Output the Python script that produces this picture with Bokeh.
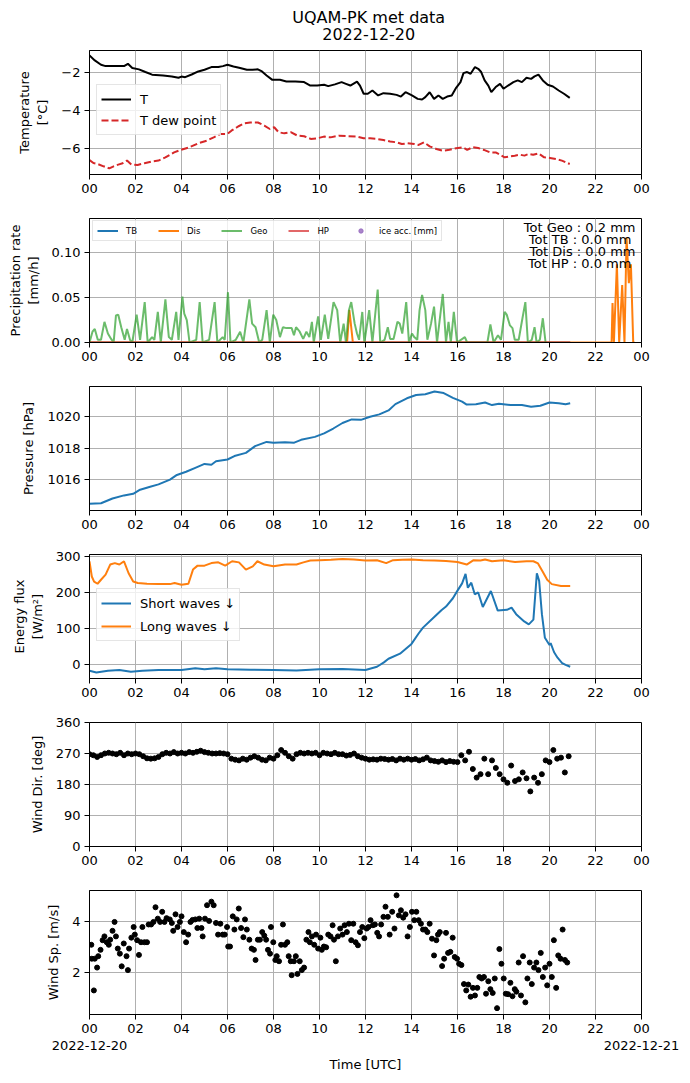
import numpy as np
from bokeh.plotting import figure
from bokeh.models import (Range1d, FixedTicker, LinearAxis, Legend, LegendItem,
                          ColumnDataSource, NumeralTickFormatter)
from bokeh.layouts import column
from bokeh.core.properties import value
from bokeh.embed import file_html
from bokeh.resources import INLINE

FONT = "DejaVu Sans"

# ---------------- data ----------------
title_lines = ["UQAM-PK met data", "2022-12-20"]
hour_ticks = list(range(0, 25, 2))
hour_labels = ["00", "02", "04", "06", "08", "10", "12", "14", "16", "18", "20", "22", "00"]
date_labels = ["2022-12-20", "2022-12-21"]

temp_pts = [(0, -1.09), (0.23, -1.35), (0.5, -1.58), (0.7, -1.65), (1.1, -1.65), (1.5, -1.65),
            (1.67, -1.53), (1.86, -1.75), (2.15, -1.82), (2.43, -1.96), (2.72, -2.1), (3.2, -2.14),
            (3.58, -2.19), (3.87, -2.26), (4.0, -2.2), (4.16, -2.23), (4.44, -2.09), (4.73, -1.93),
            (5.0, -1.84), (5.3, -1.7), (5.6, -1.7), (5.8, -1.65), (6.0, -1.58), (6.26, -1.67),
            (6.55, -1.75), (6.84, -1.84), (7.09, -1.84), (7.32, -1.82), (7.5, -1.93), (7.7, -2.14),
            (7.95, -2.37), (8.28, -2.37), (8.56, -2.46), (8.95, -2.46), (9.33, -2.49), (9.6, -2.67),
            (9.9, -2.67), (10.2, -2.63), (10.38, -2.7), (10.67, -2.61), (10.96, -2.49), (11.15, -2.58),
            (11.34, -2.67), (11.63, -2.46), (11.76, -2.67), (11.92, -3.1), (12.1, -3.1), (12.3, -2.93),
            (12.55, -3.19), (12.78, -3.07), (13.07, -3.1), (13.35, -3.16), (13.54, -3.25), (13.74, -3.02),
            (14.02, -3.19), (14.27, -3.37), (14.46, -3.4), (14.6, -3.28), (14.79, -3.02), (14.98, -3.37),
            (15.17, -3.19), (15.36, -3.37), (15.55, -3.25), (15.75, -3.19), (15.94, -2.79), (16.13, -2.49),
            (16.26, -2.02), (16.42, -1.96), (16.57, -2.05), (16.76, -1.7), (16.9, -1.79), (17.03, -1.96),
            (17.18, -2.4), (17.34, -2.67), (17.47, -3.02), (17.66, -2.75), (17.85, -2.58), (18.0, -2.84),
            (18.2, -2.67), (18.43, -2.49), (18.62, -2.4), (18.8, -2.49), (19.0, -2.26), (19.2, -2.32),
            (19.35, -2.19), (19.52, -2.1), (19.71, -2.4), (19.92, -2.63), (20.15, -2.72), (20.4, -2.93),
            (20.63, -3.1), (20.88, -3.32)]

dew_pts = [(0, -6.58), (0.17, -6.74), (0.36, -6.79), (0.61, -6.91), (0.86, -7.02), (1.05, -6.91),
           (1.25, -6.82), (1.44, -6.75), (1.63, -6.61), (1.82, -6.82), (2.09, -6.84), (2.39, -6.75),
           (2.72, -6.65), (3.0, -6.61), (3.3, -6.44), (3.68, -6.18), (3.97, -6.05), (4.35, -5.91),
           (4.73, -5.7), (5.11, -5.56), (5.4, -5.39), (5.69, -5.21), (6.0, -5.21), (6.17, -5.04),
           (6.46, -4.82), (6.74, -4.65), (6.99, -4.61), (7.32, -4.61), (7.6, -4.77), (7.84, -4.95),
           (8.03, -4.86), (8.22, -5.12), (8.47, -5.18), (8.75, -5.12), (9.04, -5.3), (9.33, -5.33),
           (9.62, -5.47), (9.9, -5.44), (10.19, -5.35), (10.48, -5.39), (10.86, -5.3), (11.25, -5.33),
           (11.63, -5.35), (11.92, -5.44), (12.2, -5.44), (12.49, -5.47), (12.78, -5.53), (13.07, -5.61),
           (13.35, -5.65), (13.58, -5.74), (13.83, -5.7), (14.12, -5.74), (14.31, -5.79), (14.54, -5.65),
           (14.79, -5.86), (15.08, -6.0), (15.36, -6.09), (15.65, -6.04), (15.94, -5.96), (16.23, -5.91),
           (16.42, -6.05), (16.65, -5.91), (16.9, -5.95), (17.15, -6.05), (17.41, -6.18), (17.66, -6.18),
           (17.85, -6.3), (18.05, -6.44), (18.24, -6.4), (18.49, -6.35), (18.72, -6.3), (18.91, -6.35),
           (19.1, -6.26), (19.29, -6.3), (19.52, -6.23), (19.77, -6.44), (20.02, -6.47), (20.29, -6.53),
           (20.54, -6.61), (20.88, -6.79)]

tb_pts = [(0, 0.0), (20.9, 0.0)]
hp_pts = [(0, 0.0), (20.9, 0.0)]
dis_pts = [(0, 0.0), (11.2, 0.0), (11.3, 0.036), (11.45, 0.0), (22.7, 0.0), (22.74, 0.044), (22.8, 0.0),
           (22.93, 0.087), (23.03, 0.0), (23.16, 0.064), (23.26, 0.0), (23.35, 0.117), (23.45, 0.066),
           (23.54, 0.087), (23.64, 0.0), (23.7, 0.0)]
geo_pts = [(0.0, 0), (0.13, 0.012), (0.23, 0.015), (0.36, 0.003), (0.5, 0.003), (0.65, 0.023), (0.8, 0.01),
           (0.94, 0.004), (1.05, 0.0), (1.15, 0.03), (1.25, 0.031), (1.38, 0.017), (1.53, 0.003), (1.63, 0.015),
           (1.76, 0.003), (1.86, 0.0), (2.05, 0.031), (2.2, 0.003), (2.4, 0.045), (2.53, 0.0), (2.72, 0.006),
           (2.82, 0.003), (2.97, 0.034), (3.1, 0.0), (3.3, 0.048), (3.45, 0.006), (3.58, 0.003), (3.77, 0.034),
           (3.87, 0.003), (4.04, 0.051), (4.12, 0.032), (4.23, 0.025), (4.35, 0.0), (4.64, 0.003), (4.79, 0.045),
           (4.92, 0.0), (5.2, 0.003), (5.44, 0.045), (5.56, 0.0), (5.79, 0.006), (5.88, 0.003), (6.02, 0.056),
           (6.13, 0.0), (6.36, 0.003), (6.55, 0.012), (6.69, 0.0), (6.95, 0.048), (7.07, 0.021), (7.22, 0.017),
           (7.38, 0.0), (7.51, 0.003), (7.7, 0.036), (7.84, 0.0), (7.99, 0.031), (8.12, 0.025), (8.28, 0.006),
           (8.41, 0.017), (8.56, 0.016), (8.7, 0.016), (8.79, 0.016), (8.89, 0.008), (8.98, 0.017), (9.14, 0.012),
           (9.29, 0.004), (9.43, 0.012), (9.56, 0.006), (9.67, 0.023), (9.75, 0.0), (9.94, 0.029), (10.06, 0.003),
           (10.23, 0.031), (10.38, 0.004), (10.61, 0.045), (10.77, 0.036), (10.9, 0.0), (11.05, 0.021),
           (11.15, 0.0), (11.28, 0.036), (11.38, 0.045), (11.53, 0.021), (11.63, 0.01), (11.72, 0.003),
           (11.86, 0.034), (11.95, 0.0), (12.16, 0.036), (12.3, 0.0), (12.53, 0.059), (12.64, 0.0), (12.83, 0.003),
           (12.97, 0.017), (13.07, 0.004), (13.22, 0.004), (13.39, 0.023), (13.49, 0.021), (13.6, 0.01),
           (13.77, 0.045), (13.89, 0.0), (14.02, 0.01), (14.12, 0.006), (14.25, 0.003), (14.35, 0.036),
           (14.46, 0.053), (14.6, 0.036), (14.69, 0.003), (14.85, 0.021), (14.98, 0.04), (15.11, 0.0),
           (15.36, 0.054), (15.5, 0.0), (15.61, 0.023), (15.71, 0.0), (15.84, 0.034), (15.98, 0.0), (16.32, 0.006),
           (16.42, 0.0), (17.3, 0.0), (17.43, 0.02), (17.57, 0.0), (17.76, 0.008), (17.89, 0.003), (18.05, 0.034),
           (18.14, 0.031), (18.28, 0.019), (18.39, 0.016), (18.49, 0.003), (18.66, 0.003), (18.81, 0.025),
           (18.95, 0.045), (19.06, 0.0), (19.23, 0.003), (19.35, 0.017), (19.44, 0.0), (19.58, 0.003),
           (19.71, 0.027), (19.83, 0.0)]
ice_pts = [(np.nan, np.nan)]
totals_text = ["Tot Geo : 0.2 mm", "Tot TB  : 0.0 mm", "Tot Dis : 0.0 mm", "Tot HP  : 0.0 mm"]

pres_pts = [(0, 1014.47), (0.5, 1014.5), (1.0, 1014.8), (1.5, 1015.0), (1.9, 1015.1), (2.2, 1015.36),
            (2.6, 1015.53), (3.0, 1015.7), (3.5, 1016.0), (3.8, 1016.3), (4.2, 1016.5), (4.6, 1016.75),
            (5.0, 1017.0), (5.3, 1016.95), (5.5, 1017.17), (6.0, 1017.28), (6.3, 1017.5), (6.8, 1017.7),
            (7.2, 1018.13), (7.7, 1018.4), (8.0, 1018.34), (8.5, 1018.38), (8.9, 1018.35), (9.2, 1018.53),
            (9.8, 1018.72), (10.2, 1018.94), (10.6, 1019.25), (11.0, 1019.6), (11.4, 1019.83), (11.8, 1019.8),
            (12.2, 1020.0), (12.6, 1020.15), (13.0, 1020.4), (13.3, 1020.8), (13.8, 1021.17), (14.2, 1021.38),
            (14.6, 1021.43), (15.0, 1021.6), (15.4, 1021.5), (15.8, 1021.2), (16.2, 1020.96), (16.4, 1020.77),
            (16.8, 1020.79), (17.2, 1020.9), (17.5, 1020.74), (17.8, 1020.83), (18.3, 1020.74), (18.8, 1020.74),
            (19.2, 1020.64), (19.6, 1020.7), (20.0, 1020.9), (20.4, 1020.85), (20.7, 1020.79), (20.9, 1020.85)]

sw_pts = [(0.0, -16), (0.3, -21), (0.8, -16), (1.3, -14), (1.8, -19), (2.3, -16), (3.0, -14), (4.0, -14),
          (4.6, -9), (5.0, -12), (5.5, -9), (6.0, -12), (7.0, -13), (8.0, -14), (9.0, -15), (10.0, -12),
          (11.0, -11), (12.0, -14), (12.5, -5), (12.8, 7), (13.0, 17), (13.5, 31), (14.0, 58), (14.3, 86),
          (14.5, 103), (15.0, 133), (15.3, 151), (15.5, 161), (15.8, 184), (16.0, 205), (16.2, 225),
          (16.35, 251), (16.45, 213), (16.6, 227), (16.75, 195), (16.9, 200), (17.1, 160), (17.45, 204),
          (17.75, 150), (18.15, 152), (18.35, 158), (18.55, 140), (18.9, 120), (19.1, 112), (19.3, 125),
          (19.45, 253), (19.55, 232), (19.67, 140), (19.8, 75), (20.0, 55), (20.05, 60), (20.2, 35),
          (20.35, 20), (20.55, 5), (20.7, 0), (20.9, -5)]
lw_pts = [(0.0, 286), (0.1, 244), (0.2, 230), (0.35, 224), (0.5, 235), (0.7, 249), (0.9, 277), (1.1, 281),
          (1.3, 277), (1.5, 286), (1.7, 253), (1.9, 230), (2.1, 226), (2.5, 224), (3.0, 223), (3.5, 223),
          (3.7, 226), (4.0, 221), (4.3, 224), (4.5, 263), (4.7, 274), (5.0, 274), (5.3, 281), (5.6, 283),
          (5.9, 274), (6.2, 286), (6.5, 283), (6.8, 263), (7.1, 272), (7.3, 286), (7.6, 277), (8.0, 272),
          (8.5, 277), (9.0, 277), (9.3, 283), (9.6, 288), (10.0, 289), (10.5, 290), (11.0, 292), (11.5, 291),
          (12.0, 288), (12.5, 289), (12.9, 281), (13.2, 289), (13.6, 290), (14.0, 291), (14.5, 289),
          (15.0, 288), (15.5, 287), (16.0, 284), (16.4, 277), (16.7, 289), (17.0, 288), (17.2, 291),
          (17.5, 286), (18.0, 289), (18.5, 284), (19.0, 286), (19.3, 286), (19.5, 280), (19.7, 258),
          (19.9, 235), (20.1, 223), (20.5, 218), (20.9, 218)]

# wind direction, 10-minute samples starting 00:00
wdir_vals = [268, 265, 260, 265, 270, 272, 270, 268, 272, 265, 270, 268,
             270, 268, 262, 256, 255, 256, 260, 268, 272, 270, 274, 270,
             272, 270, 274, 272, 275, 278, 274, 272, 270, 270, 271, 270,
             268, 255, 252, 250, 255, 252, 258, 262, 258, 252, 250, 258,
             255, 265, 280, 272, 262, 255, 268, 272, 270, 272, 270, 272,
             265, 272, 270, 268, 272, 268, 268, 264, 266, 270, 262, 258,
             255, 252, 253, 252, 255, 254, 252, 254, 250, 255, 252, 255,
             252, 254, 250, 253, 258, 250, 248, 246, 250, 245, 248, 246,
             245, 265, 250, 275, 225, 200, 210, 255, 210, 250, 228, 210,
             195, 185, 235, 190, 195, 215, 198, 160, 200, 185, 210, 250,
             245, 280, 255, 258, 215, 262]

ws_pts = [(0.08, 3.1), (0.1, 2.55), (0.19, 1.3), (0.23, 2.55), (0.33, 2.2), (0.38, 2.65), (0.48, 2.9),
          (0.57, 3.28), (0.65, 3.43), (0.75, 3.2), (0.84, 3.1), (0.9, 3.3), (1.0, 3.65), (1.09, 4.0),
          (1.15, 3.43), (1.23, 2.95), (1.32, 2.75), (1.4, 2.25), (1.49, 3.15), (1.61, 2.65), (1.67, 2.1),
          (1.72, 2.95), (1.82, 3.38), (1.92, 3.8), (1.97, 3.5), (2.07, 3.28), (2.15, 2.7), (2.24, 3.2),
          (2.3, 3.8), (2.39, 3.2), (2.5, 3.2), (2.57, 3.9), (2.68, 3.9), (2.78, 4.0), (2.87, 4.58),
          (2.97, 4.13), (3.07, 4.0), (3.16, 4.4), (3.26, 4.0), (3.35, 4.15), (3.49, 4.1), (3.58, 3.96),
          (3.64, 3.65), (3.74, 4.3), (3.83, 3.8), (3.93, 4.0), (4.0, 4.22), (4.1, 3.6), (4.2, 3.2),
          (4.29, 3.5), (4.39, 4.0), (4.48, 4.08), (4.6, 4.1), (4.69, 3.76), (4.77, 4.13), (4.87, 3.76),
          (4.92, 3.43), (5.02, 4.13), (5.11, 4.66), (5.2, 4.04), (5.3, 4.8), (5.4, 4.66), (5.5, 3.96),
          (5.59, 3.5), (5.69, 3.93), (5.79, 3.5), (5.88, 3.5), (5.98, 3.8), (6.03, 3.03), (6.11, 3.03),
          (6.23, 4.22), (6.3, 3.7), (6.4, 4.1), (6.49, 4.53), (6.59, 3.76), (6.69, 3.4), (6.76, 4.1),
          (6.84, 3.7), (6.95, 3.3), (7.05, 2.95), (7.15, 2.9), (7.22, 2.5), (7.32, 3.3), (7.41, 3.3),
          (7.51, 3.6), (7.6, 3.46), (7.68, 3.3), (7.76, 2.9), (7.85, 2.75), (7.89, 3.8), (7.99, 3.2),
          (8.08, 2.5), (8.14, 2.65), (8.24, 2.45), (8.33, 3.1), (8.41, 3.9), (8.5, 3.1), (8.6, 3.2),
          (8.66, 2.65), (8.75, 2.45), (8.79, 1.9), (8.89, 2.45), (8.97, 2.65), (9.04, 1.95), (9.14, 2.45),
          (9.23, 2.1), (9.33, 2.2), (9.43, 3.3), (9.52, 3.6), (9.58, 3.2), (9.67, 3.43), (9.77, 3.1),
          (9.85, 3.5), (9.94, 2.95), (10.04, 3.38), (10.1, 2.9), (10.19, 3.03), (10.29, 3.0), (10.38, 3.5),
          (10.48, 3.43), (10.57, 3.87), (10.63, 3.3), (10.71, 2.45), (10.8, 3.43), (10.9, 3.74), (11.0, 3.5),
          (11.09, 3.87), (11.19, 3.6), (11.28, 3.93), (11.38, 3.28), (11.47, 3.93), (11.57, 3.2), (11.67, 3.08),
          (11.76, 3.6), (11.86, 3.8), (11.95, 3.36), (12.05, 3.74), (12.13, 3.8), (12.22, 4.07), (12.32, 3.87),
          (12.41, 3.9), (12.51, 3.57), (12.59, 3.43), (12.68, 3.9), (12.78, 4.2), (12.87, 4.6), (12.97, 4.2),
          (13.05, 3.5), (13.16, 4.4), (13.26, 3.74), (13.35, 5.05), (13.45, 4.26), (13.54, 4.46), (13.64, 4.17),
          (13.74, 4.3), (13.83, 3.43), (13.93, 3.8), (14.02, 4.4), (14.12, 4.07), (14.21, 4.4), (14.31, 4.07),
          (14.41, 3.93), (14.5, 3.7), (14.6, 3.7), (14.69, 3.6), (14.79, 3.93), (14.89, 3.34), (14.98, 2.68),
          (15.08, 3.28), (15.15, 3.5), (15.23, 3.6), (15.33, 2.26), (15.42, 2.55), (15.5, 3.57), (15.59, 2.78),
          (15.69, 2.82), (15.79, 3.38), (15.88, 2.62), (15.98, 2.55), (16.07, 2.35), (16.17, 2.3),
          (16.28, 1.55), (16.38, 1.3), (16.47, 1.53), (16.57, 1.05), (16.67, 1.4), (16.76, 1.1), (16.86, 1.4),
          (16.95, 1.83), (17.05, 1.77), (17.15, 1.83), (17.24, 1.17), (17.34, 1.66), (17.43, 1.35),
          (17.53, 1.2), (17.62, 1.77), (17.72, 0.6), (17.82, 2.93), (17.91, 2.35), (18.01, 1.77), (18.1, 1.17),
          (18.2, 1.15), (18.3, 1.6), (18.39, 1.07), (18.49, 1.35), (18.56, 1.25), (18.66, 2.4), (18.76, 1.1),
          (18.85, 2.65), (18.95, 0.83), (19.04, 1.77), (19.14, 2.4), (19.23, 1.55), (19.33, 2.2), (19.43, 2.4),
          (19.52, 2.1), (19.62, 2.78), (19.71, 1.83), (19.81, 2.2), (19.9, 1.5), (20.0, 2.35), (20.1, 1.83),
          (20.19, 3.28), (20.29, 1.4), (20.38, 2.68), (20.48, 2.55), (20.57, 3.7), (20.67, 2.5), (20.77, 2.4)]


def xy(pts):
    a = np.array(pts, dtype=float)
    return a[:, 0], a[:, 1]


# ---------------- styling helpers ----------------
FIG_W = 682
LEFT = 89
RIGHT = 41


def style_axis(ax):
    ax.major_label_text_font = FONT
    ax.major_label_text_font_size = "13px"
    ax.major_label_text_color = "black"
    ax.axis_label_text_font = FONT
    ax.axis_label_text_font_size = "13px"
    ax.axis_label_text_font_style = "normal"
    ax.axis_label_text_color = "black"
    ax.axis_line_color = "black"
    ax.major_tick_line_color = "black"
    ax.major_tick_in = 0
    ax.major_tick_out = 5
    ax.minor_tick_line_color = None
    ax.major_label_standoff = 4
    ax.axis_label_standoff = 8


def make_fig(height, top, bottom, yr, yticks, ylabel, overrides=None):
    p = figure(width=FIG_W, height=height, x_range=Range1d(0, 24), y_range=Range1d(*yr),
               output_backend="svg", toolbar_location=None, title=None,
               min_border_left=LEFT, min_border_right=RIGHT, min_border_top=top, min_border_bottom=bottom)
    p.background_fill_color = "white"
    p.border_fill_color = "white"
    p.outline_line_color = "black"
    p.outline_line_width = 1
    p.outline_line_alpha = 1
    p.xaxis.ticker = FixedTicker(ticks=hour_ticks)
    p.xaxis.major_label_overrides = dict(zip(hour_ticks, hour_labels))
    p.yaxis.ticker = FixedTicker(ticks=yticks)
    if overrides:
        p.yaxis.major_label_overrides = overrides
    p.yaxis.axis_label = ylabel
    for ax in list(p.xaxis) + list(p.yaxis):
        style_axis(ax)
    p.grid.grid_line_color = "#b0b0b0"
    p.grid.grid_line_width = 1
    return p


def style_legend(leg, font="13px", gw=30, gh=20, lh=20, pad=3, spacing=1, standoff=9):
    leg.label_text_font = FONT
    leg.label_text_font_size = font
    leg.label_text_color = "black"
    leg.glyph_width = gw
    leg.glyph_height = gh
    leg.label_height = lh
    leg.label_width = 0
    leg.padding = pad
    leg.spacing = spacing
    leg.margin = 0
    leg.label_standoff = standoff
    leg.border_line_color = "#cccccc"
    leg.border_line_width = 1
    leg.background_fill_color = "white"
    leg.background_fill_alpha = 0.8


# ---------------- header ----------------
HEAD_H = 48
head = figure(width=FIG_W, height=HEAD_H, x_range=Range1d(0, FIG_W), y_range=Range1d(0, HEAD_H),
              output_backend="svg", toolbar_location=None, title=None,
              x_axis_type=None, y_axis_type=None, min_border=0)
head.outline_line_color = None
head.grid.visible = False
head.text(x=[345, 345], y=[HEAD_H - 17, HEAD_H - 33.5], text=title_lines, text_align="center",
          text_baseline="middle", text_font=value(FONT), text_font_size="16px", text_color="black")

# ---------------- 1: temperature ----------------
p1 = make_fig(160, 2, 34, (-7.34, -0.83), [-6, -4, -2], "Temperature\n[°C]",
              {-6: "\u22126", -4: "\u22124", -2: "\u22122"})
tx, ty = xy(temp_pts)
dx, dy = xy(dew_pts)
r_t = p1.line(tx, ty, line_color="black", line_width=2)
r_d = p1.line(dx, dy, line_color="#d62728", line_width=2, line_dash="7 3")
leg1 = Legend(items=[LegendItem(label="T", renderers=[r_t]),
                     LegendItem(label="T dew point", renderers=[r_d])], location=(7, 39))
style_legend(leg1, pad=4, spacing=1)
p1.add_layout(leg1)

# ---------------- 2: precipitation ----------------
P2_TOP = 0.138
p2 = make_fig(168, 10, 34, (0, P2_TOP), [0, 0.05, 0.1], "Precipitation rate\n[mm/h]")
p2.yaxis.formatter = NumeralTickFormatter(format="0.00")
bx, by = xy(tb_pts)
sx_, sy_ = xy(dis_pts)
gx, gy = xy(geo_pts)
hx, hy = xy(hp_pts)
ix, iy = xy(ice_pts)
r_tb = p2.line(bx, by, line_color="#1f77b4", line_width=2)
r_dis = p2.line(sx_, sy_, line_color="#ff7f0e", line_width=2)
r_geo = p2.line(gx, gy, line_color="#2ca02c", line_alpha=0.7, line_width=2)
r_hp = p2.line(hx, hy, line_color="#d62728", line_alpha=0.7, line_width=2)
r_ice = p2.scatter(ix, iy, marker="circle", size=5, color="#9467bd", alpha=0.8)
leg2 = Legend(items=[LegendItem(label="TB", renderers=[r_tb]),
                     LegendItem(label="Dis", renderers=[r_dis]),
                     LegendItem(label="Geo", renderers=[r_geo]),
                     LegendItem(label="HP", renderers=[r_hp]),
                     LegendItem(label="ice acc. [mm]", renderers=[r_ice])],
              location=(3, 101), orientation="horizontal")
style_legend(leg2, font="8.5px", gw=21, gh=11, lh=11, pad=4, spacing=21, standoff=8)
p2.add_layout(leg2)
tsrc = ColumnDataSource(dict(x=[24] * len(totals_text), y=[P2_TOP] * len(totals_text),
                             text=totals_text, yoff=[1, 13.3, 25.6, 37.9]))
p2.text(x="x", y="y", text="text", y_offset="yoff", source=tsrc, x_offset=-6,
        text_align="right", text_baseline="top", text_font=value(FONT),
        text_font_size="13px", text_color="black")

# ---------------- 3: pressure ----------------
p3 = make_fig(168, 10, 34, (1014.04, 1021.92), [1016, 1018, 1020], "Pressure [hPa]")
px_, py_ = xy(pres_pts)
p3.line(px_, py_, line_color="#1f77b4", line_width=2)

# ---------------- 4: energy flux ----------------
p4 = make_fig(168, 10, 34, (-37.4, 304.7), [0, 100, 200, 300], "Energy flux\n[W/m\u00b2]")
swx, swy = xy(sw_pts)
lwx, lwy = xy(lw_pts)
r_sw = p4.line(swx, swy, line_color="#1f77b4", line_width=2)
r_lw = p4.line(lwx, lwy, line_color="#ff7f0e", line_width=2)
leg4 = Legend(items=[LegendItem(label="Short waves \u2193", renderers=[r_sw]),
                     LegendItem(label="Long waves \u2193", renderers=[r_lw])], location=(7, 37))
style_legend(leg4, pad=4, spacing=3)
p4.add_layout(leg4)

# ---------------- 5: wind direction ----------------
p5 = make_fig(168, 10, 34, (0, 360), [0, 90, 180, 270, 360], "Wind Dir. [deg]")
wd_t = np.arange(len(wdir_vals)) / 6.0
p5.scatter(wd_t, wdir_vals, marker="circle", size=5, color="black")

# ---------------- 6: wind speed ----------------
p6 = make_fig(194, 10, 60, (0.35, 5.24), [2, 4], "Wind Sp. [m/s]")
wsx, wsy = xy(ws_pts)
p6.scatter(wsx, wsy, marker="circle", size=5, color="black")
ax2 = LinearAxis(ticker=FixedTicker(ticks=[0, 24]),
                 major_label_overrides={0: date_labels[0], 24: date_labels[1]},
                 axis_label="Time [UTC]")
style_axis(ax2)
ax2.axis_line_color = None
ax2.major_tick_line_color = None
ax2.major_tick_out = 0
ax2.major_label_standoff = 5
ax2.axis_label_standoff = 4
p6.add_layout(ax2, "below")

layout = column(head, p1, p2, p3, p4, p5, p6)
open("out.html", "w").write(file_html(layout, INLINE))
